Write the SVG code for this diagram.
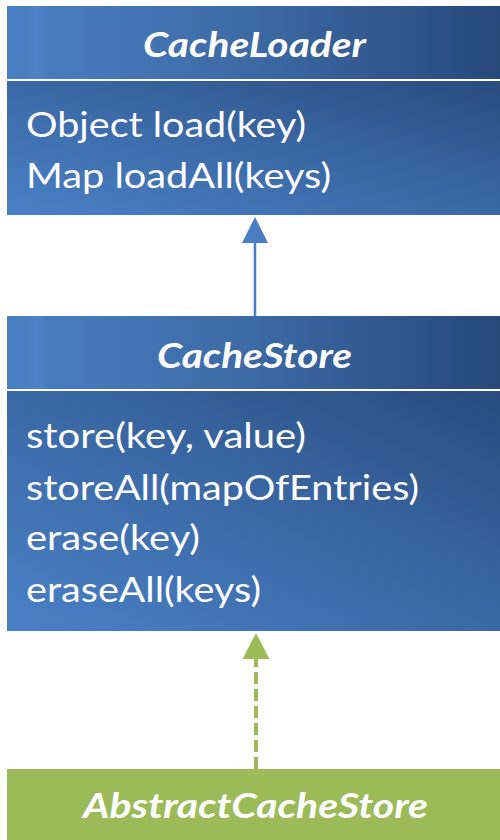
<svg xmlns="http://www.w3.org/2000/svg" width="500" height="840" viewBox="0 0 500 840">
  <defs>
    <linearGradient id="hdrFill" x1="0" y1="0" x2="1" y2="0">
      <stop offset="0" stop-color="#4a7fc3"/>
      <stop offset="0.45" stop-color="#3f6ca8"/>
      <stop offset="1" stop-color="#27497a"/>
    </linearGradient>
    <linearGradient id="bodyFill" x1="0" y1="1" x2="1" y2="0">
      <stop offset="0" stop-color="#4a80c6"/>
      <stop offset="0.5" stop-color="#3b69a6"/>
      <stop offset="1" stop-color="#2a4c7d"/>
    </linearGradient>
    <linearGradient id="edgeGlow" x1="0" y1="0" x2="1" y2="0">
      <stop offset="0" stop-color="#5b8fd6" stop-opacity="0"/>
      <stop offset="0.5" stop-color="#5b8fd6" stop-opacity="0.35"/>
      <stop offset="1" stop-color="#5b8fd6" stop-opacity="0"/>
    </linearGradient>
    <marker id="headBlue" markerUnits="userSpaceOnUse" markerWidth="26" markerHeight="26" refX="0" refY="13" orient="auto">
      <path d="M0,0 L26,13 L0,26 Z" fill="#4a7ec2"/>
    </marker>
    <marker id="headGreen" markerUnits="userSpaceOnUse" markerWidth="26" markerHeight="27" refX="0" refY="13.5" orient="auto">
      <path d="M0,0 L26,13.5 L0,27 Z" fill="#9bbb59"/>
    </marker>
  </defs>
  <style>
    .hdr { fill: url(#hdrFill); }
    .body { fill: url(#bodyFill); }
    .glow { fill: url(#edgeGlow); }
    .divider { stroke: #ffffff; stroke-width: 2; }
    .title { font-family: Lato, "Open Sans", "DejaVu Sans", sans-serif; font-weight: bold; font-style: italic; font-size: 35px; fill: #ffffff; text-anchor: middle; }
    .member { font-family: Lato, "Open Sans", "DejaVu Sans", sans-serif; font-size: 34px; fill: #ffffff; }
    .inherit { stroke: #4a7ec2; stroke-width: 2.5; fill: none; }
    .realize { stroke: #9bbb59; stroke-width: 4; stroke-dasharray: 12 5; fill: none; }
  </style>

  <rect width="500" height="840" fill="#ffffff"/>

  <!-- connectors -->
  <g id="connectors">
    <line class="inherit" x1="255" y1="316" x2="255" y2="243" marker-end="url(#headBlue)"/>
    <line class="realize" x1="256" y1="769" x2="256" y2="659" marker-end="url(#headGreen)"/>
  </g>

  <!-- interface CacheLoader -->
  <g id="cacheLoader">
    <rect class="hdr" x="7" y="6" width="493" height="74"/>
    <rect class="glow" x="26" y="6" width="22" height="74"/>
    <rect class="body" x="7" y="81" width="493" height="134"/>
    <line class="divider" x1="7" y1="80" x2="500" y2="80"/>
    <text class="title" x="254.5" y="57" textLength="223" lengthAdjust="spacingAndGlyphs">CacheLoader</text>
    <text class="member" x="26" y="137" textLength="280" lengthAdjust="spacingAndGlyphs">Object load(key)</text>
    <text class="member" x="26" y="188" textLength="305" lengthAdjust="spacingAndGlyphs">Map loadAll(keys)</text>
  </g>

  <!-- interface CacheStore -->
  <g id="cacheStore">
    <rect class="hdr" x="7" y="316" width="493" height="74"/>
    <rect class="glow" x="26" y="316" width="22" height="74"/>
    <rect class="body" x="7" y="391" width="493" height="240"/>
    <line class="divider" x1="7" y1="390" x2="500" y2="390"/>
    <text class="title" x="254.5" y="368" textLength="195" lengthAdjust="spacingAndGlyphs">CacheStore</text>
    <text class="member" x="26" y="448" textLength="280" lengthAdjust="spacingAndGlyphs">store(key, value)</text>
    <text class="member" x="26" y="500" textLength="393" lengthAdjust="spacingAndGlyphs">storeAll(mapOfEntries)</text>
    <text class="member" x="26" y="550" textLength="174" lengthAdjust="spacingAndGlyphs">erase(key)</text>
    <text class="member" x="26" y="602" textLength="235" lengthAdjust="spacingAndGlyphs">eraseAll(keys)</text>
  </g>

  <!-- abstract class AbstractCacheStore -->
  <g id="abstractCacheStore">
    <rect x="7" y="769" width="493" height="71" fill="#9bbb59"/>
    <text class="title" x="255.5" y="818" textLength="345" lengthAdjust="spacingAndGlyphs">AbstractCacheStore</text>
  </g>
</svg>
